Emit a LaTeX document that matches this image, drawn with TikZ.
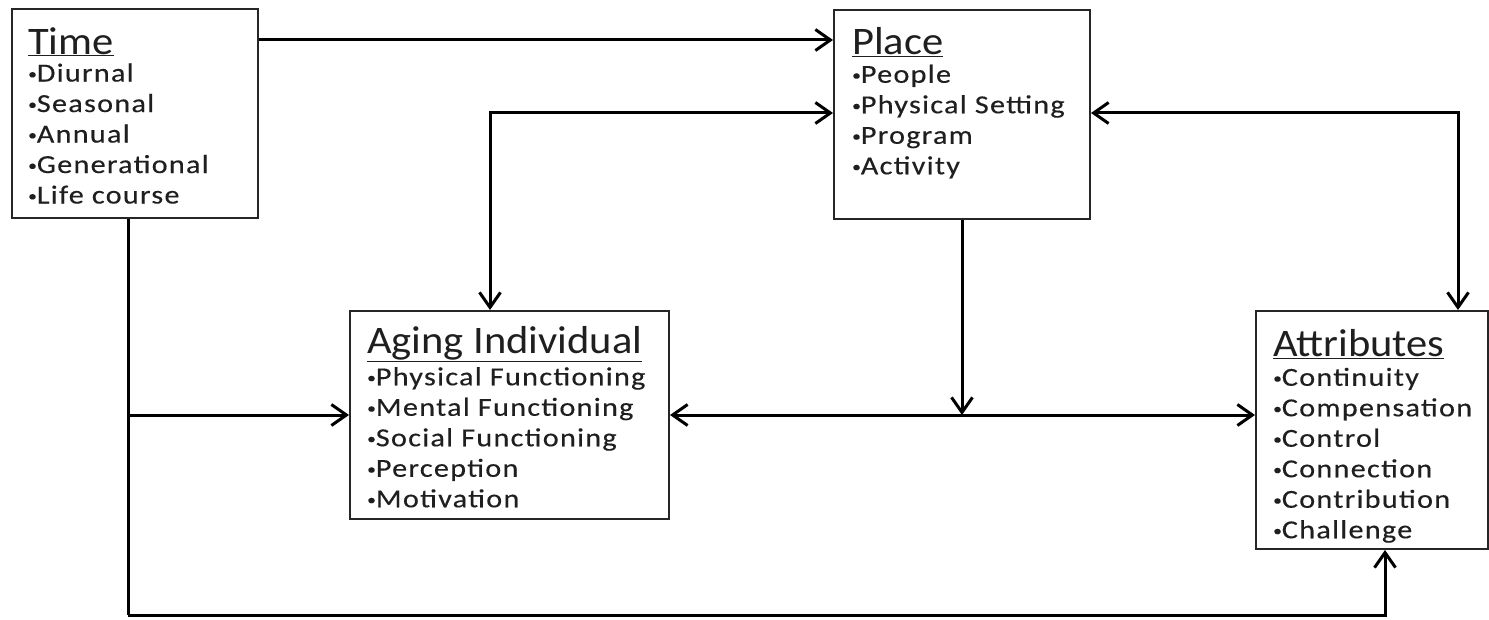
\documentclass[tikz,border=0pt]{standalone}
\usepackage{fontspec}
\setmainfont{Carlito}
\newfontfamily\titlefam{Carlito}[FakeStretch=1.09]
\newfontfamily\itemfam{Carlito}[FakeStretch=1.16, LetterSpace=5, FakeBold=0.3]
\usetikzlibrary{arrows.meta}
\newcommand{\ttl}[1]{{\titlefam\fontsize{39}{40}\selectfont\underline{#1}}}
\newcommand{\bul}{{\fontsize{15}{15}\selectfont\raisebox{2.5pt}{•}}}
\tikzset{
  box/.style={draw=black!85, line width=2pt, rectangle, inner sep=0pt, anchor=north west, fill=white},
  txt/.style={anchor=north west, inner sep=0pt, align=left, font=\itemfam\fontsize{26}{30.5}\selectfont, text=black!88},
  arr/.style={line width=3pt, -{Straight Barb[length=15pt,width=21pt,line width=3pt]}},
  darr/.style={line width=3pt, {Straight Barb[length=15pt,width=21pt,line width=3pt]}-{Straight Barb[length=15pt,width=21pt,line width=3pt]}},
}
\begin{document}
\begin{tikzpicture}[x=1pt,y=-1pt]
\useasboundingbox (0,0) rectangle (1489,620);
% boxes
\node[box, minimum width=246pt, minimum height=209pt] (time) at (11,8) {};
\node[box, minimum width=256pt, minimum height=209pt] (place) at (833,9) {};
\node[box, minimum width=319pt, minimum height=208pt] (aging) at (349,310) {};
\node[box, minimum width=232pt, minimum height=238pt] (attr) at (1255,310) {};
% texts
\node[txt] (timet) at (28,27) {\ttl{Time}\\[-3pt]\bul Diurnal\\\bul Seasonal\\\bul Annual\\\bul Generational\\\bul Life course};
\node[txt] (placet) at (852,27) {\ttl{Place}\\[-2pt]\bul People\\\bul Physical Setting\\\bul Program\\\bul Activity};
\node[txt] (agingt) at (367,326) {\ttl{Aging Individual}\\[1.5pt]\bul Physical Functioning\\\bul Mental Functioning\\\bul Social Functioning\\\bul Perception\\\bul Motivation};
\node[txt] (attrt) at (1273,329) {\ttl{Attributes}\\[-1pt]\bul Continuity\\\bul Compensation\\\bul Control\\\bul Connection\\\bul Contribution\\\bul Challenge};
% connectors
\coordinate (bot) at (128,615);
\draw[arr] ([yshift=-32pt]time.north east) -- ([yshift=-31pt]place.north west);
\draw[darr] ([yshift=-104pt]place.north west) -| ([xshift=141pt]aging.north west);
\draw[darr] ([yshift=-104pt]place.north east) -| ([xshift=203pt]attr.north west);
\draw[darr] (aging.east) -- (aging.east -| attr.west);
\draw[arr] (place.south) -- (place.south |- aging.east);
\draw[line width=3pt] ([xshift=117pt]time.south west) -- (bot);
\draw[arr] (bot) -| ([xshift=130pt]attr.south west);
\draw[arr] (bot |- aging.west) -- (aging.west);
\end{tikzpicture}
\end{document}
